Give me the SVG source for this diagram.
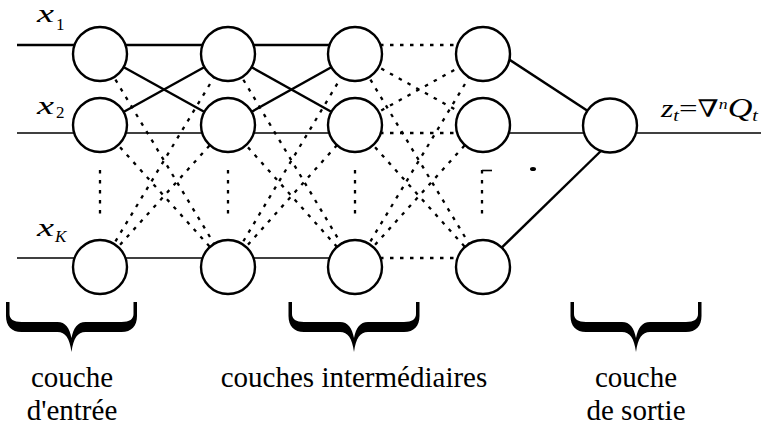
<svg xmlns="http://www.w3.org/2000/svg" width="761" height="427" viewBox="0 0 761 427">
<style>
.bg{fill:#fff}
.thick{stroke:#000;stroke-width:2.4;fill:none}
.thin{stroke:#000;stroke-width:1.6;fill:none}
.dot{stroke:#000;stroke-width:2.3;stroke-dasharray:3.5 6.5;fill:none}
.node{fill:#fff;stroke:#000;stroke-width:2.4}
.lab{font-family:"Liberation Serif","Times New Roman",serif;font-size:29px;fill:#000}
.var{font-family:"Liberation Serif","Times New Roman",serif;font-style:italic;fill:#000}
.sym{font-family:"DejaVu Serif","Liberation Serif",serif;font-style:normal}
.brace{fill:#000}
</style>
<defs>
<path id="brace" d="M -65.5,0 L -62,0 L -62,12 C -62,17 -58,20 -50,20 L -14,20 C -6,20 -2,26 0,36 C 2,26 6,20 14,20 L 50,20 C 58,20 62,17 62,12 L 62,0 L 65.5,0 L 65.5,14 C 65.5,24 60,30 50,30 L 14,30 C 6,30 2,36 0,50 C -2,36 -6,30 -14,30 L -50,30 C -60,30 -65.5,24 -65.5,14 Z"/>
</defs>
<rect class="bg" x="0" y="0" width="761" height="427"/>
<g id="connectors">
  <line class="thick" x1="17" y1="45" x2="355" y2="45"/>
  <line class="thin" x1="17" y1="133" x2="355" y2="133"/>
  <line class="thin" x1="17" y1="258" x2="355" y2="258"/>
  <line class="thick" x1="100" y1="54" x2="228" y2="125"/>
  <line class="thick" x1="100" y1="125" x2="228" y2="54"/>
  <line class="thick" x1="228" y1="54" x2="355" y2="125"/>
  <line class="thick" x1="228" y1="125" x2="355" y2="54"/>
  <line class="dot" x1="100" y1="54" x2="228" y2="267"/>
  <line class="dot" x1="100" y1="125" x2="228" y2="267"/>
  <line class="dot" x1="100" y1="267" x2="228" y2="54"/>
  <line class="dot" x1="100" y1="267" x2="228" y2="125"/>
  <line class="dot" x1="228" y1="54" x2="355" y2="267"/>
  <line class="dot" x1="228" y1="125" x2="355" y2="267"/>
  <line class="dot" x1="228" y1="267" x2="355" y2="54"/>
  <line class="dot" x1="228" y1="267" x2="355" y2="125"/>
  <line class="dot" x1="380" y1="45" x2="460" y2="45"/>
  <line class="dot" x1="380" y1="133" x2="460" y2="133"/>
  <line class="dot" x1="380" y1="258" x2="460" y2="258"/>
  <line class="dot" x1="355" y1="54" x2="483" y2="125"/>
  <line class="dot" x1="355" y1="125" x2="483" y2="54"/>
  <line class="dot" x1="355" y1="54" x2="483" y2="267"/>
  <line class="dot" x1="355" y1="125" x2="483" y2="267"/>
  <line class="dot" x1="355" y1="267" x2="483" y2="54"/>
  <line class="dot" x1="355" y1="267" x2="483" y2="125"/>
  <line class="dot" x1="100" y1="170" x2="100" y2="220"/>
  <line class="dot" x1="228" y1="170" x2="228" y2="220"/>
  <line class="dot" x1="355" y1="170" x2="355" y2="220"/>
  <line class="dot" x1="482" y1="170" x2="482" y2="220"/>
  <line class="thin" x1="482" y1="170.5" x2="492" y2="170.5"/>
  <ellipse cx="533" cy="169" rx="3" ry="2" fill="#000"/>
  <line class="thick" x1="497" y1="51.5" x2="610" y2="125.5"/>
  <line class="thin" x1="483" y1="133" x2="610" y2="133"/>
  <line class="thick" x1="490" y1="259" x2="605" y2="147"/>
  <line class="thin" x1="610" y1="133" x2="761" y2="133"/>
</g>
<g id="node-c1-r1"><circle class="node" cx="100" cy="54" r="27"/></g>
<g id="node-c1-r2"><circle class="node" cx="100" cy="125" r="27"/></g>
<g id="node-c1-rK"><circle class="node" cx="100" cy="267" r="27"/></g>
<g id="node-c2-r1"><circle class="node" cx="228" cy="54" r="27"/></g>
<g id="node-c2-r2"><circle class="node" cx="228" cy="125" r="27"/></g>
<g id="node-c2-rK"><circle class="node" cx="228" cy="267" r="27"/></g>
<g id="node-c3-r1"><circle class="node" cx="355" cy="54" r="27"/></g>
<g id="node-c3-r2"><circle class="node" cx="355" cy="125" r="27"/></g>
<g id="node-c3-rK"><circle class="node" cx="355" cy="267" r="27"/></g>
<g id="node-c4-r1"><circle class="node" cx="483" cy="54" r="27"/></g>
<g id="node-c4-r2"><circle class="node" cx="483" cy="125" r="27"/></g>
<g id="node-c4-rK"><circle class="node" cx="483" cy="267" r="27"/></g>
<g id="node-out"><circle class="node" cx="610" cy="125.5" r="27"/></g>
<g id="input-labels">
  <text class="var" x="37" y="22" font-size="26" textLength="17" lengthAdjust="spacingAndGlyphs">x</text>
  <text class="lab" x="56" y="30" style="font-size:17px">1</text>
  <text class="var" x="37" y="114" font-size="26" textLength="17" lengthAdjust="spacingAndGlyphs">x</text>
  <text class="lab" x="56" y="118" style="font-size:17px">2</text>
  <text class="var" x="37" y="236" font-size="26" textLength="17" lengthAdjust="spacingAndGlyphs">x</text>
  <text class="var" x="55" y="242" font-size="17">K</text>
</g>
<g id="output-label">
  <text class="var" x="661" y="117" font-size="25" textLength="97" lengthAdjust="spacingAndGlyphs">z<tspan font-size="16" dy="4">t</tspan><tspan dy="-4" font-style="normal" font-size="26">=</tspan><tspan class="sym" font-size="24">∇</tspan><tspan font-size="14" dy="-8">n</tspan><tspan dy="8" font-size="27">Q</tspan><tspan font-size="16" dy="4">t</tspan></text>
</g>
<g id="layer-input">
  <use href="#brace" class="brace" transform="translate(71.5,302)"/>
  <text class="lab" x="72" y="387" text-anchor="middle">couche</text>
  <text class="lab" x="72" y="420" text-anchor="middle">d'entrée</text>
</g>
<g id="layer-hidden">
  <use href="#brace" class="brace" transform="translate(354,302)"/>
  <text class="lab" x="354" y="387" text-anchor="middle">couches intermédiaires</text>
</g>
<g id="layer-output">
  <use href="#brace" class="brace" transform="translate(636,302)"/>
  <text class="lab" x="636" y="387" text-anchor="middle">couche</text>
  <text class="lab" x="636" y="420" text-anchor="middle">de sortie</text>
</g>
</svg>
